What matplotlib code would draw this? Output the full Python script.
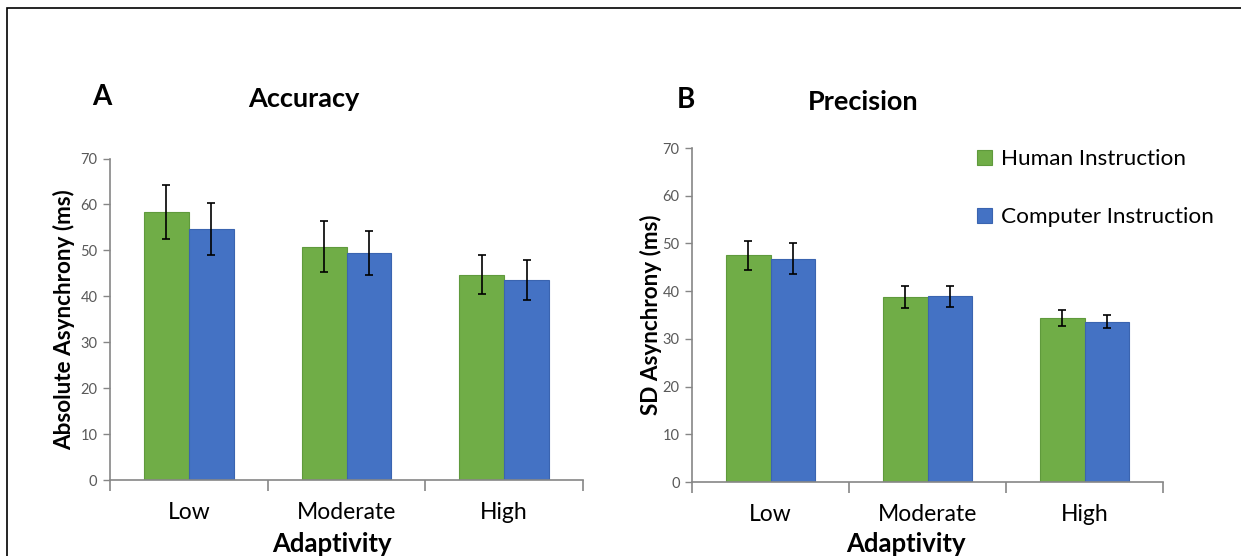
import matplotlib.pyplot as plt
import matplotlib as mpl
import numpy as np
from matplotlib.patches import Rectangle

mpl.rcParams['font.family'] = 'Lato'

# Data
categories = ['Low', 'Moderate', 'High']
series = ['Human Instruction', 'Computer Instruction']

acc_human = [58.3, 50.8, 44.7]
acc_human_err = [5.9, 5.5, 4.2]
acc_computer = [54.6, 49.4, 43.5]
acc_computer_err = [5.7, 4.8, 4.3]

prec_human = [47.5, 38.8, 34.4]
prec_human_err = [3.1, 2.3, 1.7]
prec_computer = [46.8, 38.9, 33.6]
prec_computer_err = [3.3, 2.2, 1.4]

green = '#70AD47'
blue = '#4472C4'
gray = '#868686'
tick_gray = '#595959'

W, H = 1241, 556
fig = plt.figure(figsize=(W / 100, H / 100), dpi=100)

# frame around the whole figure (right and bottom cut off)
fig.patches.append(Rectangle((7 / W, -0.1), 1.2, 1 - 8 / H + 0.1, transform=fig.transFigure,
                             fill=False, edgecolor='black', linewidth=1.2))


def px_axes(x0, y0, x1, y1):
    return fig.add_axes([x0 / W, 1 - y1 / H, (x1 - x0) / W, (y1 - y0) / H])


def draw_panel(ax, hum, hum_err, comp, comp_err, ylabel, ylab_x, xlab_x, xlab_y):
    x = np.arange(len(categories))
    w = 0.285
    b1 = ax.bar(x - w / 2, hum, w, color=green, edgecolor='#5f9a3c', linewidth=0.8,
                label=series[0], zorder=2)
    b2 = ax.bar(x + w / 2, comp, w, color=blue, edgecolor='#3a64b0', linewidth=0.8,
                label=series[1], zorder=2)
    ax.errorbar(x - w / 2, hum, yerr=hum_err, fmt='none', ecolor='black', elinewidth=1.2,
                capsize=3, capthick=1.2, zorder=3)
    ax.errorbar(x + w / 2, comp, yerr=comp_err, fmt='none', ecolor='black', elinewidth=1.2,
                capsize=3, capthick=1.2, zorder=3)

    ax.set_xlim(-0.5, 2.5)
    ax.set_ylim(0, 70)
    ax.set_yticks(range(0, 71, 10))
    ax.tick_params(axis='y', colors=gray, labelcolor=tick_gray, labelsize=10.5, length=5,
                   width=1, pad=4)
    ax.set_xticks([-0.5, 0.5, 1.5, 2.5])
    ax.set_xticklabels([])
    ax.set_xticks(x, minor=True)
    ax.set_xticklabels(categories, minor=True, fontsize=16.5, color='black')
    ax.tick_params(axis='x', which='major', colors=gray, length=8, width=1.2)
    ax.tick_params(axis='x', which='minor', length=0, pad=16)
    for s in ['top', 'right']:
        ax.spines[s].set_visible(False)
    for s in ['left', 'bottom']:
        ax.spines[s].set_color(gray)
        ax.spines[s].set_linewidth(1.2)

    ax.set_ylabel(ylabel, fontsize=16.2, fontweight='bold')
    ax.yaxis.set_label_coords(ylab_x, 0.5)
    ax.set_xlabel('Adaptivity', fontsize=18.5, fontweight='bold')
    ax.xaxis.set_label_coords(xlab_x, xlab_y)
    return b1, b2


ax1 = px_axes(110, 158.5, 583, 480)
draw_panel(ax1, acc_human, acc_human_err, acc_computer, acc_computer_err,
           'Absolute Asynchrony (ms)', -0.074, 0.47, -0.162)

ax2 = px_axes(692, 148, 1163, 482)
b1, b2 = draw_panel(ax2, prec_human, prec_human_err, prec_computer, prec_computer_err,
                    'SD Asynchrony (ms)', -0.064, 0.455, -0.150)

# panel letters and titles
fig.text(102 / W, 1 - 97 / H, 'A', fontsize=20, fontweight='bold', ha='center', va='center')
fig.text(304 / W, 1 - 99 / H, 'Accuracy', fontsize=19.5, fontweight='bold', ha='center', va='center')
fig.text(686 / W, 1 - 100 / H, 'B', fontsize=20, fontweight='bold', ha='center', va='center')
fig.text(863 / W, 1 - 102 / H, 'Precision', fontsize=19.5, fontweight='bold', ha='center', va='center')

fig.legend([b1, b2], series, loc='upper left', bbox_to_anchor=(977 / W, 1 - 149 / H),
           frameon=False, fontsize=16.2, handlelength=0.65, handleheight=0.65, handletextpad=0.4,
           labelspacing=1.7, borderpad=0, borderaxespad=0)

fig.savefig('out.png', dpi=100)
